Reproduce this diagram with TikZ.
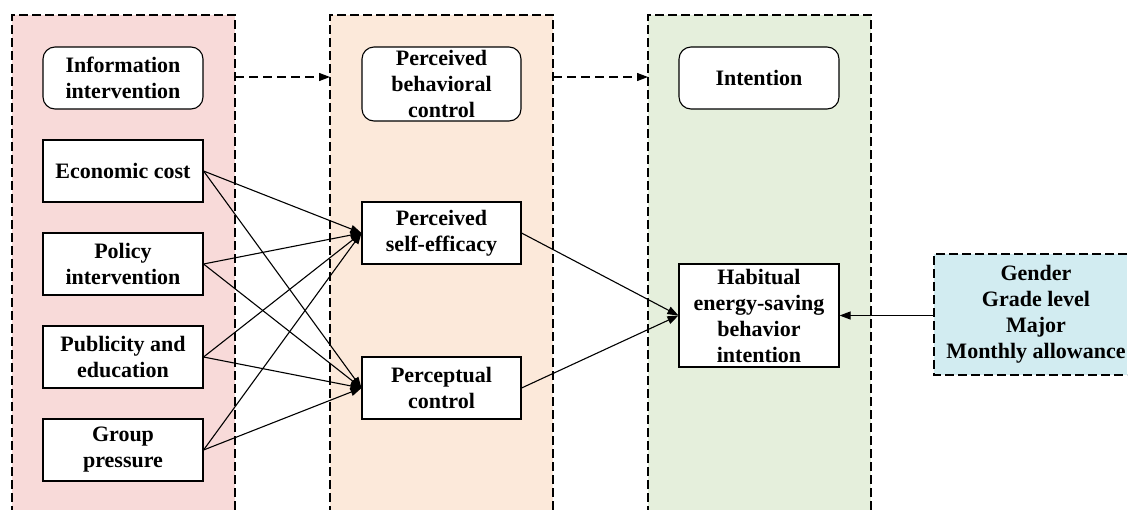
\documentclass[tikz,border=0pt]{standalone}
\usepackage{fontspec}
\setmainfont{Liberation Serif}
\usetikzlibrary{arrows.meta}
\definecolor{pinkbg}{RGB}{248,218,217}
\definecolor{orangebg}{RGB}{252,233,218}
\definecolor{greenbg}{RGB}{229,239,220}
\definecolor{bluebg}{RGB}{210,236,241}
\begin{document}
\begin{tikzpicture}[x=1pt,y=-1pt,
  lbl/.style={align=center, font=\bfseries\fontsize{22}{26}\selectfont, inner sep=0pt},
  box/.style={lbl, draw, line width=1.1pt, fill=white, minimum width=160pt, minimum height=62pt},
  rbox/.style={box, rounded corners=12pt},
  panel/.style={dash pattern=on 9pt off 4pt, line width=1.2pt},
  arr/.style={-{Triangle[length=11pt,width=8pt]}, line width=1.1pt},
  darr/.style={arr, line width=1.2pt, dash pattern=on 9pt off 5pt}]
\useasboundingbox (0,0) rectangle (1131,509);
% panels
\fill[pinkbg] (12,15) rectangle (235,515);
\fill[orangebg] (330,15) rectangle (553,515);
\fill[greenbg] (648,15) rectangle (871,515);
\fill[bluebg] (934,254) rectangle (1127,375);
\draw[panel] (12,515) -- (12,15) -- (235,15) -- (235,515);
\draw[panel] (330,515) -- (330,15) -- (553,15) -- (553,515);
\draw[panel] (648,515) -- (648,15) -- (871,15) -- (871,515);
\draw[panel] (1127,254) -- (934,254) -- (934,375) -- (1127,375);
\coordinate (p1E) at (235,77);
\coordinate (p2W) at (330,77);
\coordinate (p2E) at (553,77);
\coordinate (p3W) at (648,77);
\coordinate (demoW) at (934,315.5);
% nodes
\node[rbox] (info) at (123,78) {Information\\intervention};
\node[box] (econ) at (123,171) {Economic cost};
\node[box] (policy) at (123,264) {Policy\\intervention};
\node[box] (pub) at (123,357) {Publicity and\\education};
\node[box] (group) at (123,450) {Group\\pressure};
\node[rbox, minimum width=159pt, minimum height=74pt] (pbc) at (441.5,84) {Perceived\\behavioral\\control};
\node[box, minimum width=159pt] (pse) at (441.5,233) {Perceived\\self-efficacy};
\node[box, minimum width=159pt] (pc) at (441.5,388) {Perceptual\\control};
\node[rbox] (int) at (759,78) {Intention};
\node[box, minimum height=103pt] (hab) at (759,315.5) {Habitual\\energy-saving\\behavior\\intention};
\node[lbl] (demo) at (1036,314.5) {Gender\\Grade level\\Major\\Monthly allowance};
% connectors
\draw[darr] (p1E) -- (p2W);
\draw[darr] (p2E) -- (p3W);
\foreach \s in {econ,policy,pub,group}{
  \draw[arr] (\s.east) -- (pse.west);
  \draw[arr] (\s.east) -- (pc.west);
}
\draw[arr] (pse.east) -- (hab.west);
\draw[arr] (pc.east) -- (hab.west);
\draw[arr] (demoW) -- (hab.east);
\end{tikzpicture}
\end{document}
